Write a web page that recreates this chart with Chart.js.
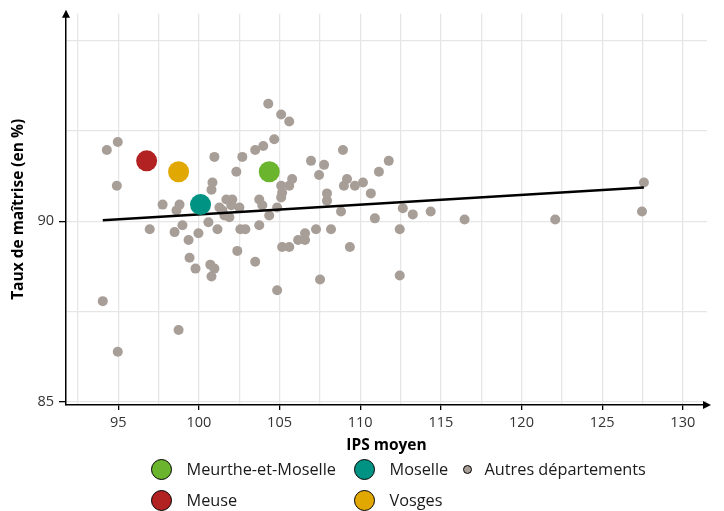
<!DOCTYPE html>
<html lang="fr">
<head>
<meta charset="utf-8">
<script src="https://cdn.jsdelivr.net/npm/chart.js@4.4.1/dist/chart.umd.min.js"></script>
<style>
  html, body { margin: 0; padding: 0; background: #fff; }
  #wrap { position: relative; width: 724px; height: 511px; }
  #legend { position: absolute; left: 0; top: 0; width: 724px; height: 511px; pointer-events: none;
            font-family: "Open Sans", sans-serif; font-size: 16.3px; color: #1a1a1a; }
  .item { position: absolute; display: flex; align-items: center; height: 26px; white-space: nowrap; }
  .dot { border: 1.5px solid #000; border-radius: 50%; box-sizing: border-box; flex: none; }
</style>
</head>
<body>
<div id="wrap">
  <canvas id="scatterChart" width="724" height="511"></canvas>
  <div id="legend"></div>
</div>
<script>
// autres départements
const ipsAutres = [
  94.29, 94.97, 94.91, 94.04, 94.97, 96.95, 97.75, 98.80, 98.61, 98.49,
  98.98, 98.74, 99.36, 99.42, 99.79, 99.97, 100.59, 100.71, 100.96, 100.78,
  100.84, 100.78, 100.96, 101.15, 101.27, 101.46, 101.58, 101.89, 101.70, 102.07,
  102.01, 102.51, 102.32, 102.38, 102.57, 102.88, 102.69, 103.49, 103.99, 103.49,
  103.74, 103.93, 103.74, 104.36, 104.85, 104.30, 105.10, 105.60, 104.67, 104.85,
  105.10, 105.60, 105.78, 105.16, 105.10, 105.16, 105.60, 106.15, 106.58, 106.58,
  106.95, 107.26, 107.45, 107.51, 107.76, 108.19, 107.94, 107.94, 108.81, 108.93,
  108.99, 109.18, 109.36, 109.67, 110.17, 110.66, 110.91, 111.16, 111.77, 112.45,
  112.45, 112.64, 113.26, 114.37, 116.47, 122.09, 127.59, 127.47
];
const tauxAutres = [
  91.97, 92.19, 90.98, 87.79, 86.39, 89.78, 90.46, 90.46, 90.30, 89.70,
  89.89, 86.99, 89.48, 88.99, 88.69, 89.67, 89.97, 88.80, 88.69, 88.47,
  91.07, 90.87, 91.78, 89.78, 90.38, 90.30, 90.16, 90.11, 90.60, 90.60,
  90.44, 90.38, 91.37, 89.18, 89.78, 89.78, 91.78, 91.97, 92.08, 88.88,
  90.60, 90.44, 89.89, 90.16, 90.38, 93.25, 92.95, 92.76, 92.27, 88.09,
  90.98, 90.98, 91.17, 90.79, 90.66, 89.29, 89.29, 89.48, 89.67, 89.48,
  91.67, 89.78, 91.28, 88.39, 91.56, 89.78, 90.77, 90.57, 90.27, 91.97,
  90.98, 91.17, 89.29, 90.98, 91.07, 90.77, 90.08, 91.37, 91.67, 89.78,
  88.50, 90.36, 90.19, 90.27, 90.05, 90.05, 91.07, 90.27
];

// départements de l'académie
const departements = ['Meurthe-et-Moselle', 'Meuse', 'Moselle', 'Vosges'];
const ipsDep = [104.36, 96.76, 100.10, 98.74];
const tauxDep = [91.37, 91.67, 90.46, 91.37];
const couleursDep = ['#6ab42e', '#b22222', '#009282', '#e0a800'];

// droite de tendance
const tendanceIps = [94.04, 127.59];
const tendanceTaux = [90.03, 90.93];

const xGrille = [92.5, 95, 97.5, 100, 102.5, 105, 107.5, 110, 112.5, 115, 117.5, 120, 122.5, 125, 127.5, 130];
const xEtiquettes = [95, 100, 105, 110, 115, 120, 125, 130];
const yGrille = [85, 87.5, 90, 92.5, 95];
const yEtiquettes = [85, 90];

const gris = '#a89e98';
const police = '"Open Sans", sans-serif';

const datasets = departements.map((nom, i) => ({
  label: nom,
  data: [{ x: ipsDep[i], y: tauxDep[i] }],
  backgroundColor: couleursDep[i],
  borderWidth: 0,
  pointRadius: 10.5,
  legendSize: 21
}));
datasets.push({
  type: 'line',
  label: 'tendance',
  data: tendanceIps.map((x, i) => ({ x: x, y: tendanceTaux[i] })),
  borderColor: '#000',
  borderWidth: 2.5,
  pointRadius: 0,
  showLine: true,
  noLegend: true
});
datasets.push({
  label: 'Autres départements',
  data: ipsAutres.map((x, i) => ({ x: x, y: tauxAutres[i] })),
  backgroundColor: gris,
  borderWidth: 0,
  pointRadius: 5,
  legendSize: 9
});

// flèches au bout des axes
const fleches = {
  id: 'fleches',
  afterDraw(chart) {
    const { ctx, chartArea: a } = chart;
    ctx.save();
    ctx.fillStyle = '#000';
    ctx.beginPath();
    ctx.moveTo(a.left, a.top - 4);
    ctx.lineTo(a.left - 4, a.top + 4);
    ctx.lineTo(a.left + 4, a.top + 4);
    ctx.closePath();
    ctx.fill();
    ctx.beginPath();
    ctx.moveTo(a.right + 4, a.bottom);
    ctx.lineTo(a.right - 4, a.bottom - 4);
    ctx.lineTo(a.right - 4, a.bottom + 4);
    ctx.closePath();
    ctx.fill();
    ctx.restore();
  }
};

const chart = new Chart(document.getElementById('scatterChart'), {
  type: 'scatter',
  data: { datasets: datasets },
  options: {
    responsive: false,
    animation: false,
    layout: { padding: { left: 0, top: 9, right: 17, bottom: 56 } },
    plugins: {
      legend: { display: false },
      tooltip: { enabled: false }
    },
    scales: {
      x: {
        type: 'linear',
        min: 91.76,
        max: 131.5,
        afterBuildTicks: s => { s.ticks = xGrille.map(v => ({ value: v })); },
        afterFit: s => { s.height = 50; },
        ticks: {
          autoSkip: false,
          maxRotation: 0,
          padding: 4,
          color: '#333',
          font: { family: police, size: 14.5 },
          callback: v => xEtiquettes.includes(v) ? v : ''
        },
        grid: {
          color: '#e6e6e6',
          lineWidth: 1.3,
          tickLength: 5,
          tickColor: c => xEtiquettes.includes(c.tick.value) ? '#000' : 'rgba(0,0,0,0)'
        },
        border: { color: '#000', width: 1.5 },
        title: {
          display: true,
          text: 'IPS moyen',
          color: '#000',
          padding: 0,
          font: { family: police, size: 15.5, weight: 'bold' }
        }
      },
      y: {
        type: 'linear',
        min: 84.918,
        max: 95.74,
        afterBuildTicks: s => { s.ticks = yGrille.map(v => ({ value: v })); },
        afterFit: s => { s.width = 66; },
        ticks: {
          padding: 5,
          color: '#333',
          font: { family: police, size: 14.5 },
          callback: v => yEtiquettes.includes(v) ? v : ''
        },
        grid: {
          color: '#e6e6e6',
          lineWidth: 1.3,
          tickLength: 7,
          tickColor: c => yEtiquettes.includes(c.tick.value) ? '#000' : 'rgba(0,0,0,0)'
        },
        border: { color: '#000', width: 1.5 },
        title: {
          display: true,
          text: 'Taux de maîtrise (en %)',
          color: '#000',
          padding: 9,
          font: { family: police, size: 15.5, weight: 'bold' }
        }
      }
    }
  },
  plugins: [fleches]
});

// légende en colonnes (2 lignes), construite depuis les jeux de données
const colonnes = [150.5, 353.5, 462.5];
const lignes = [469, 500];
const legende = document.getElementById('legend');
chart.data.datasets.filter(d => !d.noLegend).forEach((d, i) => {
  const item = document.createElement('div');
  item.className = 'item';
  item.style.left = colonnes[Math.floor(i / 2)] + 'px';
  item.style.top = (lignes[i % 2] - 13) + 'px';
  const dot = document.createElement('span');
  dot.className = 'dot';
  dot.style.width = d.legendSize + 'px';
  dot.style.height = d.legendSize + 'px';
  dot.style.background = d.backgroundColor;
  dot.style.marginRight = (d.legendSize > 10 ? 15 : 13) + 'px';
  dot.style.borderWidth = d.legendSize > 10 ? '1.5px' : '1px';
  const txt = document.createElement('span');
  txt.textContent = d.label;
  item.appendChild(dot);
  item.appendChild(txt);
  legende.appendChild(item);
});
</script>
</body>
</html>
